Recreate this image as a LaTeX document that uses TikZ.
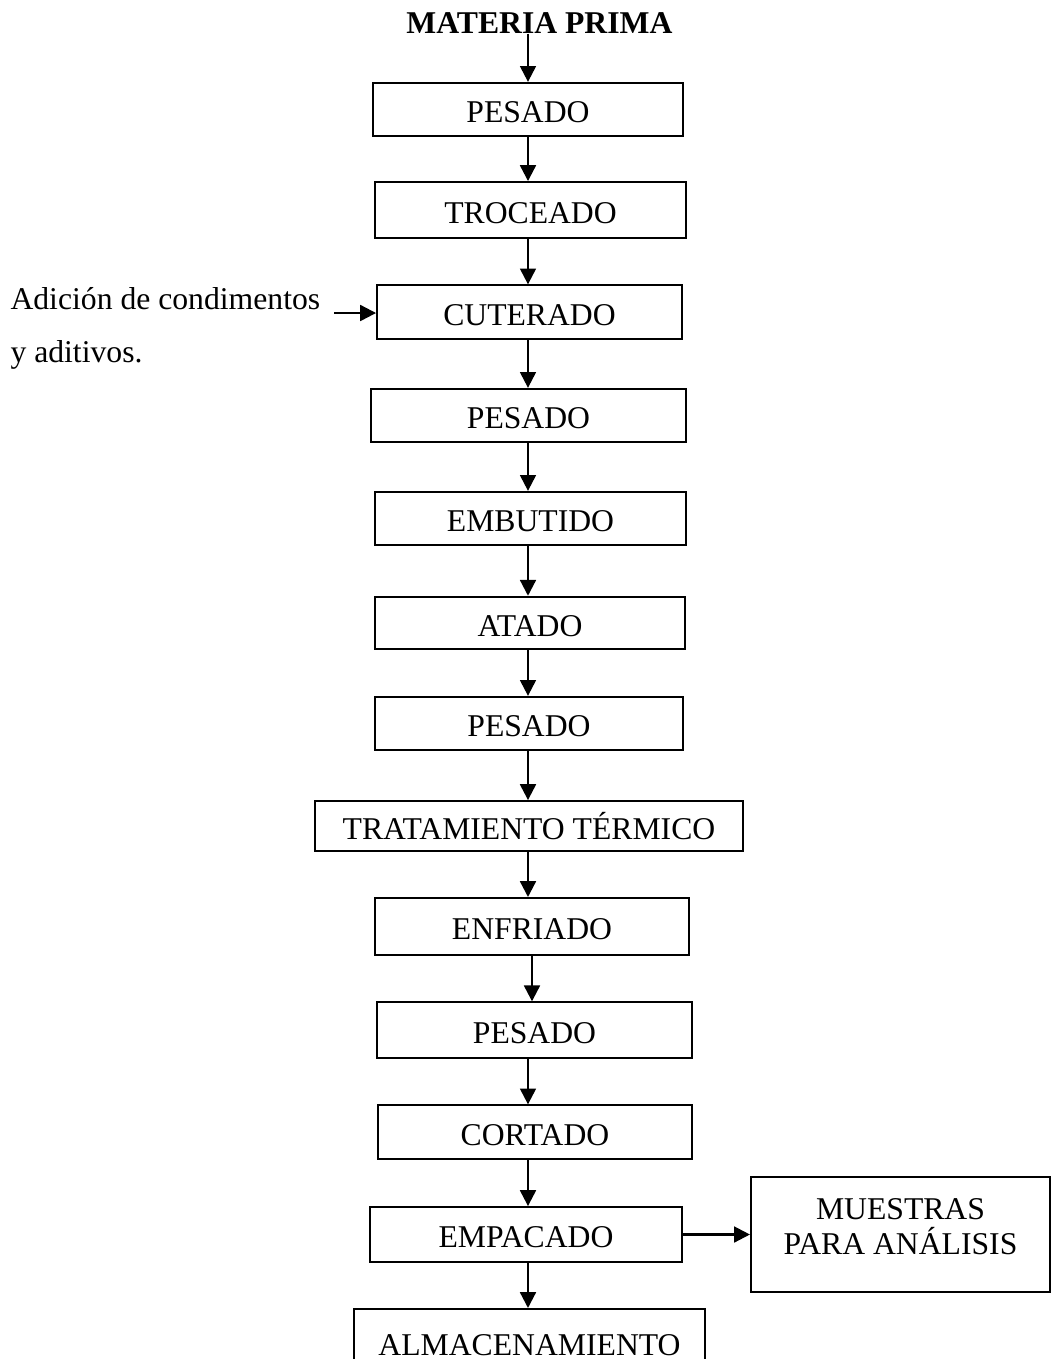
\documentclass[tikz,border=0pt]{standalone}
\usepackage{fontspec}
\setmainfont{Liberation Serif}
\usetikzlibrary{arrows.meta}
\tikzset{
  proc/.style={draw,line width=0.75pt,inner sep=0pt,minimum height=20.2pt,
    text height=10.1pt,text depth=0pt,font=\fontsize{12}{14}\selectfont},
  flow/.style={line width=0.85pt,-{Triangle[length=6pt,width=6pt]}}
}

\begin{document}
\begin{tikzpicture}[x=0.3788pt,y=-0.3788pt]
\useasboundingbox (0,0) rectangle (1051,1359);

\node[inner sep=0pt,anchor=base,font=\bfseries\fontsize{12}{14}\selectfont] (matprima) at (539.5,33) {MATERIA PRIMA};

\node[proc,minimum width=117.4pt] (pes1) at (528,109.5) {PESADO};
\node[proc,minimum width=117.8pt,minimum height=21.2pt] (troc) at (530.5,210) {TROCEADO};
\node[proc,minimum width=115.5pt] (cut) at (529.5,312) {CUTERADO};
\node[proc,minimum width=119.3pt] (pes2) at (528.5,415.5) {PESADO};
\node[proc,minimum width=117.8pt] (emb) at (530.5,518.5) {EMBUTIDO};
\node[proc,minimum width=117.4pt,minimum height=19.9pt] (atado) at (530,623) {ATADO};
\node[proc,minimum width=116.7pt] (pes3) at (529,723.5) {PESADO};
\node[proc,minimum width=162.1pt,minimum height=18.9pt] (trat) at (529,826) {TRATAMIENTO TÉRMICO};
\node[proc,minimum width=118.9pt,minimum height=21.6pt] (enfr) at (532,926.5) {ENFRIADO};
\node[proc,minimum width=119.3pt,minimum height=21pt] (pes4) at (534.5,1030) {PESADO};
\node[proc,minimum width=118.9pt] (cort) at (535,1132) {CORTADO};
\node[proc,minimum width=118.2pt,minimum height=20.8pt] (emp) at (526,1234.5) {EMPACADO};
\node[proc,minimum width=133pt,minimum height=25.4pt] (alm) at (529.5,1342.5) {ALMACENAMIENTO};

\node[draw,line width=0.75pt,inner sep=0pt,minimum width=113.3pt,minimum height=43.6pt,
  align=center,text depth=6pt,font=\fontsize{12}{13.3}\selectfont] (muest) at (900.5,1234.5)
  {MUESTRAS\\PARA ANÁLISIS};

\node[inner sep=0pt,anchor=base west,align=left,font=\fontsize{12}{20}\selectfont] (adic) at (10,362)
  {Adición de condimentos\\y aditivos.};
\coordinate (adicin) at (334,313);

\draw[flow] (pes1.north |- matprima.south) -- (pes1.north);
\draw[flow] (pes1.south) -- (troc.north -| pes1);
\draw[flow] (troc.south -| pes1) -- (cut.north -| pes1);
\draw[flow] (cut.south -| pes1) -- (pes2.north -| pes1);
\draw[flow] (pes2.south -| pes1) -- (emb.north -| pes1);
\draw[flow] (emb.south -| pes1) -- (atado.north -| pes1);
\draw[flow] (atado.south -| pes1) -- (pes3.north -| pes1);
\draw[flow] (pes3.south -| pes1) -- (trat.north -| pes1);
\draw[flow] (trat.south -| pes1) -- (enfr.north -| pes1);
\draw[flow] (enfr.south -| enfr) -- (pes4.north -| enfr);
\draw[flow] (pes4.south -| pes1) -- (cort.north -| pes1);
\draw[flow] (cort.south -| pes1) -- (emp.north -| pes1);
\draw[flow] (emp.south -| pes1) -- (alm.north -| pes1);
\draw[flow] (adicin) -- (cut.west |- adicin);
\draw[flow] (emp) -- (muest);

\end{tikzpicture}
\end{document}
